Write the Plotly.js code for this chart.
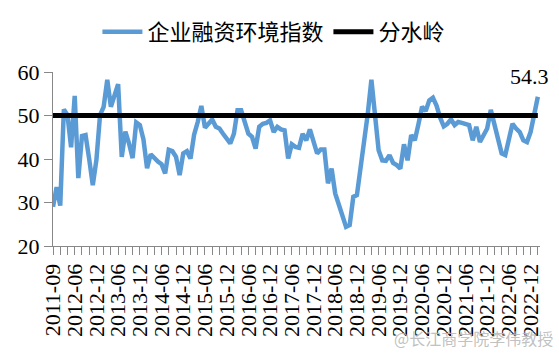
<!DOCTYPE html>
<html>
<head>
<meta charset="utf-8">
<script src="https://cdn.plot.ly/plotly-3.0.1.min.js"></script>
<style>html,body{margin:0;padding:0;background:#fff;}#chart{width:559px;height:360px;}</style>
</head>
<body>
<div id="chart"></div>
<script>
// Category labels (months)
var earlyMonths = ["2011-09","2011-12","2012-02","2012-03","2012-04","2012-05"];
var categories = earlyMonths.slice();
(function(){
  var y = 2012, m = 6;
  while (!(y === 2023 && m === 3)) {
    categories.push(y + "-" + (m < 10 ? "0" + m : "" + m));
    m++; if (m > 12) { m = 1; y++; }
  }
})();

// 企业融资环境指数 values
var indexValues = [
  29.0, 33.5, 29.3, 51.4, 50.1, 42.7, 54.5, 35.6, 45.3, 45.5,
  40.0, 34.0, 39.8, 50.1, 52.0, 58.2, 52.0, 54.6, 57.2, 40.5,
  46.3, 43.6, 40.2, 48.4, 47.8, 44.5, 37.9, 41.1, 40.2, 39.4,
  38.8, 36.7, 42.1, 41.8, 40.5, 36.3, 41.3, 41.8, 40.1, 45.6,
  48.5, 52.2, 47.2, 48.0, 49.1, 47.4, 47.0, 45.8, 44.8, 43.6,
  45.8, 51.2, 51.2, 48.5, 45.8, 45.1, 42.4, 47.4, 48.1, 48.3,
  48.9, 46.2, 47.4, 46.8, 46.6, 40.1, 43.4, 42.8, 42.6, 45.8,
  44.3, 46.8, 44.3, 41.3, 42.2, 42.2, 34.4, 37.8, 32.1, 29.4,
  27.1, 24.4, 24.8, 31.3, 31.7, 37.4, 44.3, 50.4, 58.2, 50.4,
  42.0, 39.7, 39.6, 40.9, 39.1, 38.6, 37.8, 43.4, 39.7, 45.5,
  44.3, 48.0, 52.0, 51.0, 53.5, 54.1, 52.3, 49.5, 47.5, 48.1,
  49.1, 47.8, 48.5, 48.3, 48.1, 47.8, 44.3, 47.4, 43.9, 45.5,
  47.0, 51.3, 48.0, 45.1, 41.3, 40.9, 44.5, 48.1, 47.0, 46.2,
  44.3, 43.9, 46.2, 50.0, 54.3
];

var watershedValue = 50;
var seriesNames = ["企业融资环境指数", "分水岭"];
var lastLabel = "54.3";
var watermark = "@长江商学院李伟教授";

var xIdx = categories.map(function(_, i){ return i; });
var watershed = categories.map(function(){ return watershedValue; });

var tickvals = [], ticktext = [];
for (var i = 0; i < categories.length; i += 2) {
  tickvals.push(i);
  ticktext.push(i % 6 === 0 ? categories[i] : "");
}

var serif = "Liberation Serif";
var cjk = "Noto Sans CJK SC";

var traces = [
  {x: xIdx, y: indexValues, type: "scatter", mode: "lines", name: seriesNames[0],
   line: {color: "#5B9BD5", width: 4.5}, hoverinfo: "skip"},
  {x: xIdx, y: watershed, type: "scatter", mode: "lines", name: seriesNames[1],
   line: {color: "#000000", width: 5}, hoverinfo: "skip"}
];

var layout = {
  width: 559, height: 360,
  margin: {l: 53, r: 19, t: 72, b: 114, pad: 0},
  paper_bgcolor: "#ffffff", plot_bgcolor: "#ffffff",
  showlegend: true,
  legend: {
    orientation: "h", xref: "container", yref: "container",
    x: 0.49, xanchor: "center", y: 1 - 32/360, yanchor: "middle",
    font: {family: cjk, size: 22, color: "#000"},
    itemwidth: 40, traceorder: "normal", bgcolor: "rgba(0,0,0,0)"
  },
  xaxis: {
    type: "linear", range: [0, 134.6], showgrid: false, zeroline: false,
    showline: true, linecolor: "#888888", linewidth: 1,
    ticks: "outside", ticklen: 8, tickcolor: "#888888", tickwidth: 1,
    tickmode: "array", tickvals: tickvals, ticktext: ticktext,
    tickangle: -90, tickfont: {family: serif, size: 22, color: "#000"}
  },
  yaxis: {
    range: [20, 60], dtick: 10, tick0: 20, showgrid: false, zeroline: false,
    showline: true, linecolor: "#888888", linewidth: 1,
    ticks: "outside", ticklen: 8, tickcolor: "#888888", tickwidth: 1,
    tickfont: {family: serif, size: 22, color: "#000"}
  },
  annotations: [
    {x: categories.length - 1, y: indexValues[indexValues.length - 1], xref: "x", yref: "y",
     text: lastLabel, showarrow: false, xanchor: "center", yanchor: "middle",
     xshift: -8, yshift: 20, font: {family: serif, size: 22, color: "#000"}},
    {x: (473 - 53) / 487, y: (246 - 338) / 174, xref: "paper", yref: "paper",
     text: watermark, showarrow: false, xanchor: "center", yanchor: "middle",
     font: {family: cjk, size: 16, color: "rgba(185,185,185,0.9)"}}
  ]
};

Plotly.newPlot("chart", traces, layout, {staticPlot: true, displayModeBar: false});
</script>
</body>
</html>
